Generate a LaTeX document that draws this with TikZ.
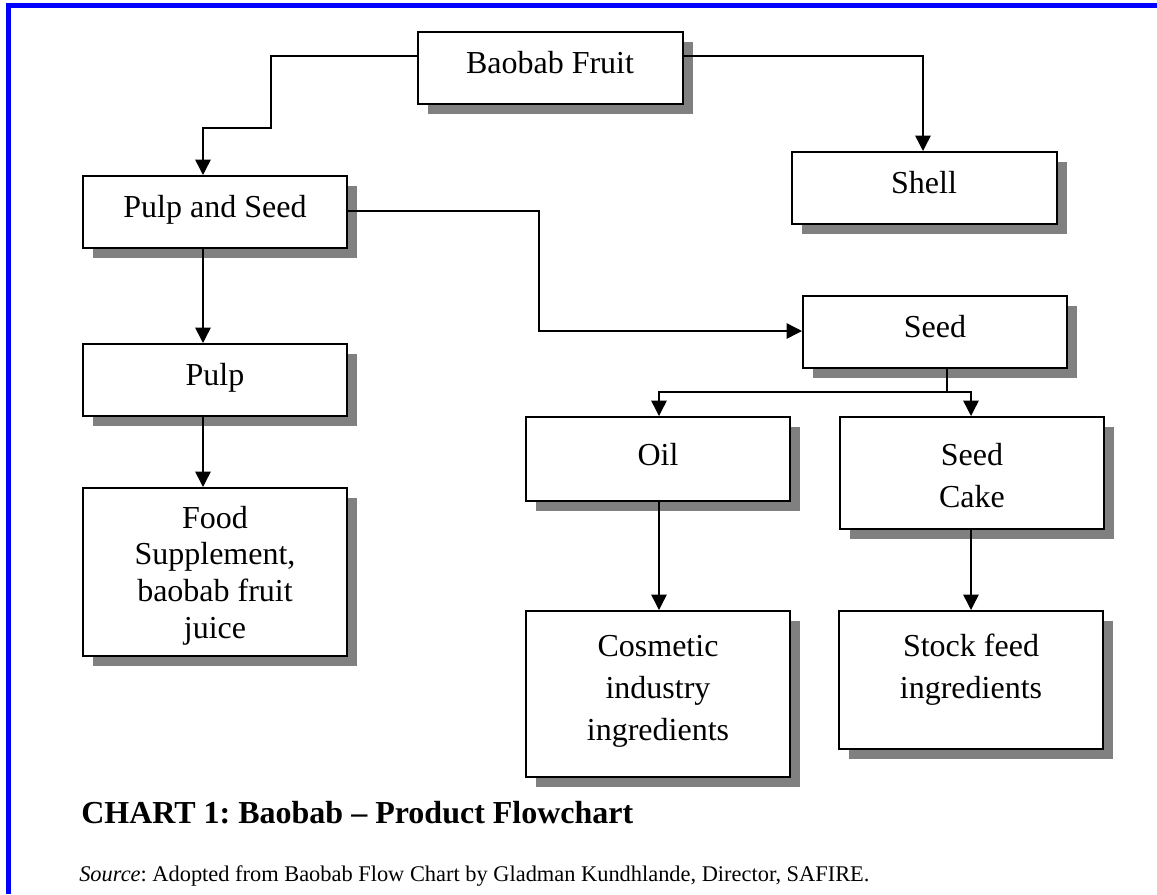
\documentclass[tikz,border=0pt]{standalone}
\usepackage{fontspec}
\setmainfont{Liberation Serif}
\usetikzlibrary{arrows.meta,shadows,calc,fit}
\frenchspacing
\begin{document}
\begin{tikzpicture}[x=0.75pt,y=-0.75pt,
  box/.style={draw=black, line width=1.5pt, fill=white, inner sep=0pt,
    drop shadow={shadow xshift=7.5pt, shadow yshift=-7.5pt, opacity=1, fill=black!50}},
  conn/.style={draw=black, line width=1.1pt},
  arr/.style={conn, -{Triangle[width=11.5pt,length=11.5pt]}},
  lbl/.style={font=\fontsize{24}{27.4}\selectfont, inner sep=0pt, anchor=base, align=center},
  lblw/.style={font=\fontsize{24}{31.5}\selectfont, inner sep=0pt, anchor=base, align=center},
]
\useasboundingbox (0,0) rectangle (1157,894);
\fill[white] (0,0) rectangle (1157,894);
% blue frame (top and left only)
\fill[blue] (6,3) rectangle (1157,8);
\fill[blue] (6,3) rectangle (11,894);

% boxes
\node[box, fit={(418,32) (683,104)}] (bf) {};
\node[box, fit={(792,152) (1057,224)}] (shell) {};
\node[box, fit={(83,176) (347,248)}] (pas) {};
\node[box, fit={(83,344) (347,416)}] (pulp) {};
\node[box, fit={(83,488) (347,656)}] (food) {};
\node[box, fit={(803,296) (1067,368)}] (seed) {};
\node[box, fit={(526,417) (790,501)}] (oil) {};
\node[box, fit={(840,417) (1104,529)}] (cake) {};
\node[box, fit={(526,611) (790,777)}] (cosm) {};
\node[box, fit={(839,611) (1103,749)}] (stock) {};

% texts (anchor=base is the baseline of the last line)
\node[lbl] (tbf) at (550,73) {Baobab Fruit};
\node[lbl] (tshell) at (924,193) {Shell};
\node[lbl] (tpas) at (215,217) {Pulp and Seed};
\node[lbl] (tpulp) at (215,385) {Pulp};
\node[lbl] (tfood) at (215,638) {Food\\Supplement,\\baobab fruit\\juice};
\node[lbl] (tseed) at (935,337) {Seed};
\node[lbl] (toil) at (658,465) {Oil};
\node[lblw] (tcake) at (972,507) {Seed\\Cake};
\node[lblw] (tcosm) at (658,740) {Cosmetic\\industry\\ingredients};
\node[lblw] (tstock) at (971,698) {Stock feed\\ingredients};

% connectors
\coordinate (j1) at (947,392);
\draw[arr] ($(bf.west)+(0,-12)$) -- (271,56) -- (271,128) -- (203,128) -- ($(pas.north)+(-12,0)$);
\draw[arr] ($(bf.east)+(0,-12)$) -- (923,56) -- ($(shell.north)+(-1.5,0)$);
\draw[arr] ($(pas.south)+(-12,0)$) -- ($(pulp.north)+(-12,0)$);
\draw[arr] ($(pulp.south)+(-12,0)$) -- ($(food.north)+(-12,0)$);
\draw[arr] ($(pas.east)+(0,-1)$) -- (539,211) -- (539,331) -- ($(seed.west)+(0,-1)$);
\draw[conn] ($(seed.south)+(12,0)$) -- (j1);
\draw[arr] (j1) -- (659,392) -- ($(oil.north)+(1,0)$);
\draw[arr] (j1) -- (971,392) -- ($(cake.north)+(-1,0)$);
\draw[arr] ($(oil.south)+(1,0)$) -- ($(cosm.north)+(1,0)$);
\draw[arr] ($(cake.south)+(-1,0)$) -- ($(stock.north)+(0,0)$);

% caption
\node[anchor=base west, inner sep=0pt, font=\fontsize{24}{28}\selectfont\bfseries] (title) at (81,823) {CHART 1: Baobab \textendash{} Product Flowchart};
\node[anchor=base west, inner sep=0pt, font=\fontsize{16.8}{20}\selectfont] (src) at (79,881) {\textit{Source}: Adopted from Baobab Flow Chart by Gladman Kundhlande, Director, SAFIRE.};
\end{tikzpicture}
\end{document}
